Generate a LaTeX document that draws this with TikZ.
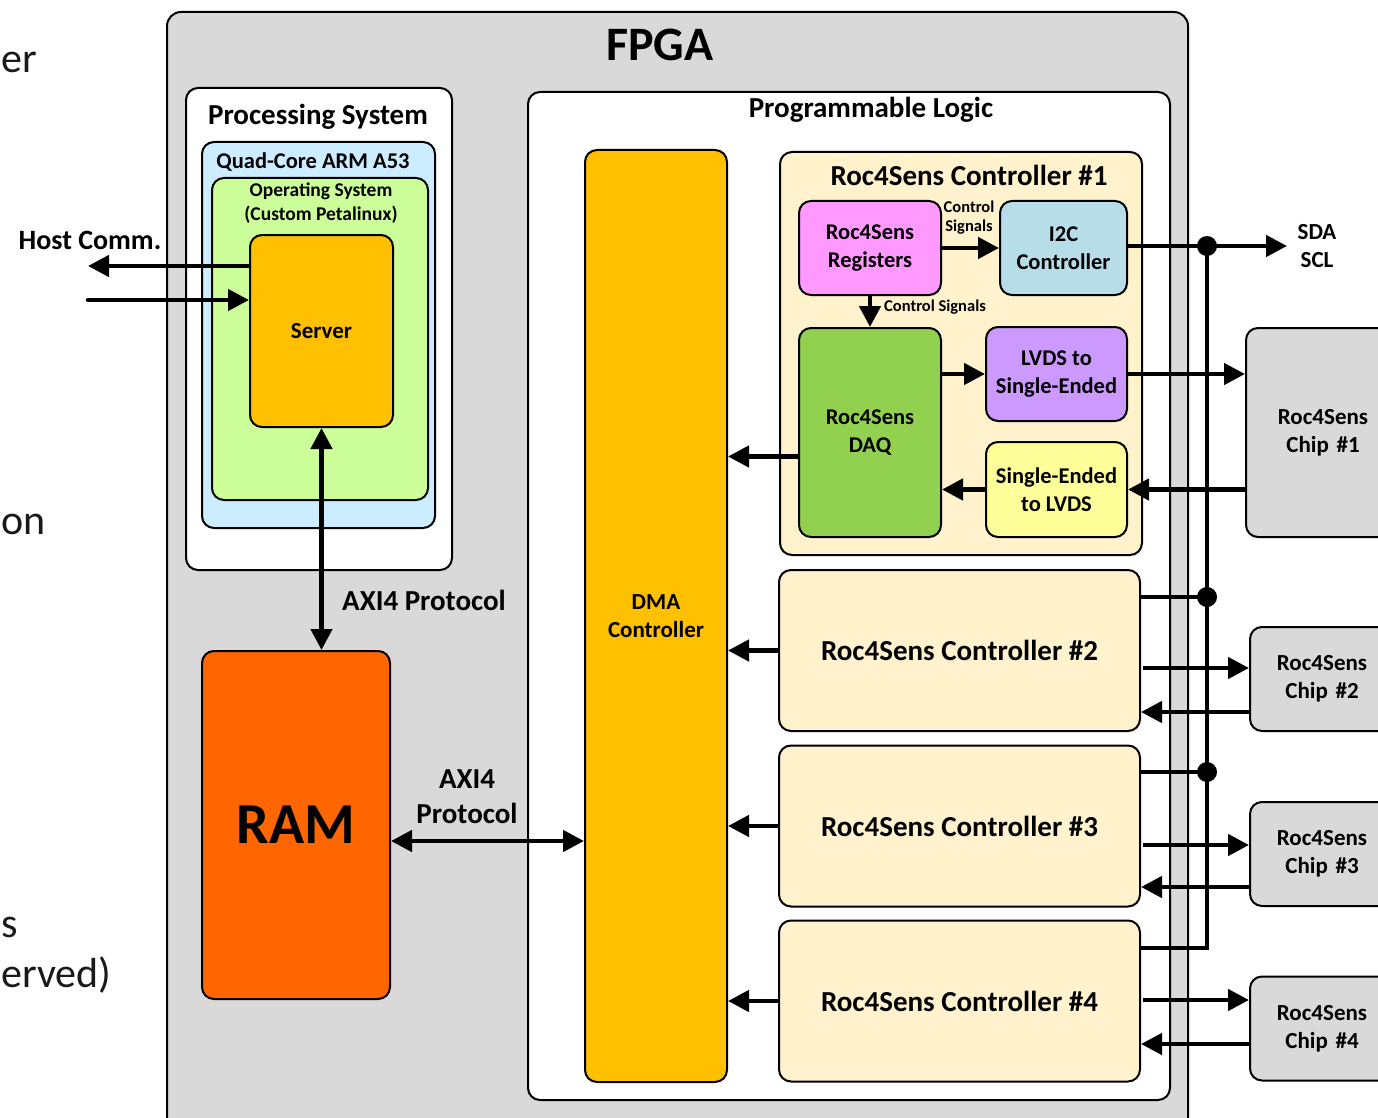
\documentclass[tikz,border=0pt]{standalone}
\usepackage{fontspec}
\setmainfont{Carlito}
\usetikzlibrary{arrows.meta,calc}

\definecolor{fpgagray}{HTML}{D9D9D9}
\definecolor{armblue}{HTML}{CCECFF}
\definecolor{osgreen}{HTML}{CCFF99}
\definecolor{srvorange}{HTML}{FFC000}
\definecolor{ramorange}{HTML}{FF6600}
\definecolor{ctlcream}{HTML}{FFF2CC}
\definecolor{regpink}{HTML}{FF99FF}
\definecolor{i2cblue}{HTML}{B7DEE8}
\definecolor{daqgreen}{HTML}{92D050}
\definecolor{lvdspurple}{HTML}{CC99FF}
\definecolor{seyellow}{HTML}{FFFF99}

\begin{document}
\begin{tikzpicture}[x=1pt,y=-1pt,>={Triangle[length=21pt,width=21pt]},
    box/.style={draw,line width=2pt,rounded corners=12pt,inner sep=0pt,align=center},
    arr/.style={line width=4.5pt},
    ttl/.style={font=\fontsize{48}{52}\selectfont\bfseries},
    head/.style={font=\fontsize{29}{33}\selectfont\bfseries,align=center},
    sub/.style={font=\fontsize{22.5}{26}\selectfont\bfseries,align=center},
    lbl/.style={font=\fontsize{22.5}{28}\selectfont\bfseries,align=center},
    sml/.style={font=\fontsize{23}{28}\selectfont\bfseries,align=center},
    tiny/.style={font=\fontsize{16.5}{19}\selectfont\bfseries,align=center,inner sep=0pt},
    frag/.style={font=\fontsize{42}{48}\selectfont,text=black!90,inner sep=0pt,anchor=base west}]

\useasboundingbox (0,0) rectangle (1378,1118);

% cut-off slide text
\node[frag] (f1) at (1,73) {er};
\node[frag] (f2) at (1,534) {on};
\node[frag] (f3) at (1,937) {s};
\node[frag] (f4) at (1,987) {erved)};

% containers
\node[box,fill=fpgagray,rounded corners=14pt,minimum width=1021,minimum height=1128] (fpga) at (677.5,576) {};
\node[ttl] (fpgat) at (660,45) {FPGA};

\node[box,fill=white,minimum width=266,minimum height=482] (ps) at (319,329) {};
\node[head] (pst) at (318,117) {Processing System};
\node[box,fill=armblue,minimum width=233,minimum height=386] (arm) at (318.5,335) {};
\node[sub] (armt) at (313,162) {Quad-Core ARM A53};
\node[box,fill=osgreen,minimum width=216,minimum height=322] (os) at (320,339) {};
\node[font=\fontsize{19.5}{24}\selectfont\bfseries,align=center] (ost) at (321,203) {Operating System\\(Custom Petalinux)};
\node[box,sml,fill=srvorange,minimum width=143,minimum height=192] (srv) at (321.5,331) {Server};

\node[box,fill=ramorange,minimum width=188,minimum height=348,font=\fontsize{58}{62}\selectfont\bfseries] (ram) at (296,825) {RAM};

\node[box,fill=white,minimum width=642,minimum height=1008] (pl) at (849,596) {};
\node[head] (plt) at (871,110) {Programmable Logic};
\node[box,sml,fill=srvorange,minimum width=142,minimum height=932] (dma) at (656,616) {DMA\\Controller};

% controller 1
\node[box,fill=ctlcream,minimum width=362,minimum height=403] (ctl1) at (961,353.5) {};
\node[head] (ctl1t) at (969,175) {Roc4Sens Controller \#1};
\node[box,lbl,fill=regpink,minimum width=142,minimum height=94] (reg) at (870,248) {Roc4Sens\\Registers};
\node[box,lbl,fill=i2cblue,minimum width=127,minimum height=94] (i2c) at (1063.5,248) {I2C\\Controller};
\node[box,lbl,fill=daqgreen,minimum width=142,minimum height=209] (daq) at (870,432.5) {Roc4Sens\\DAQ};
\node[box,lbl,fill=lvdspurple,minimum width=141,minimum height=94] (lvds) at (1056.5,374) {LVDS to\\Single-Ended};
\node[box,lbl,fill=seyellow,minimum width=141,minimum height=95] (se) at (1056.5,489.5) {Single-Ended\\to LVDS};
\node[tiny] (cs1) at (969,218) {Control\\Signals};
\node[tiny,anchor=west] (cs2) at (884,307) {Control Signals};

% controllers 2-4
\foreach \n/\y in {2/650.5,3/826,4/1001}
{
    \node[box,head,fill=ctlcream,minimum width=361,minimum height=161] (ctl\n) at (959.5,\y) {Roc4Sens Controller \#\n};
}

% chips
\node[box,sml,fill=fpgagray,minimum width=154,minimum height=209,text width=150] (chip1) at (1323,432.5) {Roc4Sens\\Chip \#1};
\foreach \n/\y in {2/679,3/854,4/1028.5}
{
    \node[box,sml,fill=fpgagray,minimum width=144,minimum height=104,text width=140] (chip\n) at (1322,\y) {Roc4Sens\\Chip \#\n};
}

% labels
\node[font=\fontsize{28}{32}\selectfont\bfseries] (host) at (90,240) {Host Comm.};
\node[font=\fontsize{29}{35}\selectfont\bfseries] (axi1) at (424,600) {AXI4 Protocol};
\node[font=\fontsize{29}{35}\selectfont\bfseries,align=center] (axi2) at (467,797) {AXI4\\Protocol};
\node[sml] (sda) at (1317,246) {SDA\\SCL};

% connectors
\coordinate (hostout) at (88,266);
\coordinate (hostin) at (88,300);
\draw[arr,->] (srv.west |- hostout) -- (hostout);
\draw[arr,->,line cap=round] (hostin) -- (hostin -| srv.west);
\draw[arr,<->] (srv.south) -- (srv.south |- ram.north);
\coordinate (axr) at ($(ram.east)+(0,16)$);
\draw[arr,<->] (axr) -- (axr -| dma.west);

\draw[arr,->] (reg.east) -- (i2c.west);
\draw[arr,->] (reg.south) -- (reg.south |- daq.north);
\draw[arr,->] (lvds.west -| daq.east) -- (lvds.west);
\draw[arr,->] (se.west) -- (se.west -| daq.east);
\coordinate (dq) at ($(daq.west)+(0,24)$);
\draw[arr,->] (dq) -- (dq -| dma.east);
\draw[arr,->] (lvds.east) -- (lvds.east -| chip1.west);
\draw[arr,->] (chip1.west |- se.east) -- (se.east);

% i2c bus
\coordinate (sdaend) at (1287,246);
\coordinate (tap1) at (1207,246);
\coordinate (tap2) at (1207,597);
\coordinate (tap3) at (1207,772);
\coordinate (tap4) at (1207,948);
\draw[arr,->] (i2c.east |- sdaend) -- (sdaend);
\draw[arr] (ctl4.east |- tap4) -| (tap1);
\draw[arr] (ctl2.east |- tap2) -- (tap2);
\draw[arr] (ctl3.east |- tap3) -- (tap3);
\foreach \t in {tap1,tap2,tap3}
{
    \fill (\t) circle (10pt);
}

\foreach \n/\yo/\yi in {2/668/712,3/845/887,4/1000/1044}
{
    \draw[arr,->] ([xshift=2pt]ctl\n.east |- 0,\yo) -- (chip\n.west |- 0,\yo);
    \draw[arr,->] (chip\n.west |- 0,\yi) -- (ctl\n.east |- 0,\yi);
    \draw[arr,->] (ctl\n.west) -- (ctl\n.west -| dma.east);
}

\end{tikzpicture}
\end{document}
